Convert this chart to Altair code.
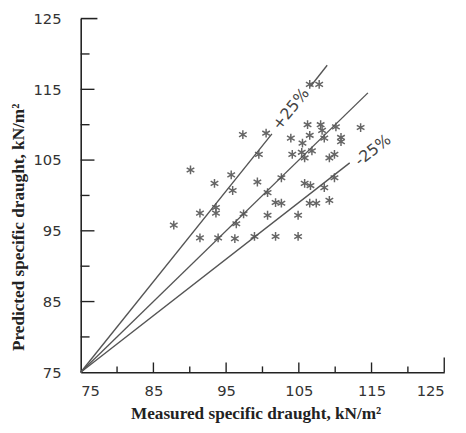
import altair as alt
import pandas as pd

# Scatter data (measured vs predicted specific draught, kN/m^2)
measured = [106.5, 107.8, 97.3, 100.5, 99.5, 103.9, 106.2, 108.0, 110.1, 113.5,
            105.5, 106.5, 108.2, 108.5, 110.8, 110.8, 104.1, 105.4, 106.8, 105.8,
            109.2, 109.9, 95.7, 93.4, 99.3, 95.9, 102.6, 105.8, 106.6, 108.5,
            109.9, 100.7, 101.8, 102.6, 106.5, 107.4, 109.2, 93.6, 91.4, 93.6,
            97.4, 100.7, 104.9, 96.4, 87.8, 90.1, 91.4, 93.9, 96.2, 98.9,
            101.8, 104.9]
predicted = [115.7, 115.7, 108.6, 108.8, 105.8, 108.1, 110.0, 110.0, 109.7, 109.6,
             107.4, 108.5, 109.2, 108.1, 108.2, 107.6, 105.8, 106.1, 106.3, 105.3,
             105.3, 105.8, 102.9, 101.7, 101.9, 100.7, 102.5, 101.7, 101.4, 101.1,
             102.5, 100.4, 99.0, 98.9, 98.9, 98.9, 99.3, 98.3, 97.5, 97.5,
             97.4, 97.2, 97.2, 96.0, 95.8, 103.6, 94.0, 94.0, 93.9, 94.2,
             94.2, 94.2]

# Reference lines (1:1, +25 %, -25 %)
line_id = ["eq", "eq", "plus_a", "plus_a", "plus_b", "plus_b", "minus", "minus"]
line_x = [75, 114.5, 75, 101.3, 106.6, 108.9, 75, 112.0]
line_y = [75, 114.5, 75, 108.7, 115.4, 118.4, 75, 104.6]

label_text = ["+25%", "-25%"]
label_x = [103.9, 115.2]
label_y = [112.2, 106.4]
label_angle = [308.8, 322]

tick_major = [85, 95, 105, 115]
tick_minor = [80, 90, 100, 110, 120]
tick_end = [125]
axis_labels = [75, 85, 95, 105, 115, 125]

pts = pd.DataFrame({"m": measured, "p": predicted})
lines = pd.DataFrame({"id": line_id, "x": line_x, "y": line_y})
labels = pd.DataFrame({"t": label_text, "x": label_x, "y": label_y, "a": label_angle})

DOM = [75, 125]
xs = alt.Scale(domain=DOM, nice=False)
ys = alt.Scale(domain=DOM, nice=False)

tick_font = "DejaVu Sans"
title_font = "Liberation Serif"

xaxis = alt.Axis(values=axis_labels, ticks=False, grid=False, domainColor="#222",
                 domainWidth=1.6, labelFont=tick_font, labelFontSize=15,
                 labelColor="#333", labelPadding=12,
                 title="Measured specific draught, kN/m²", titleFont=title_font,
                 titleFontSize=17.5, titleFontWeight="bold", titleColor="#222",
                 titlePadding=6, titleX=178)
yaxis = alt.Axis(values=axis_labels, ticks=False, grid=False, domainColor="#222",
                 domainWidth=1.6, labelFont=tick_font, labelFontSize=15,
                 labelColor="#333", labelPadding=20,
                 title="Predicted specific draught, kN/m²", titleFont=title_font,
                 titleFontSize=17.5, titleFontWeight="bold", titleColor="#222",
                 titleX=-54, titleY=212)

asterisk = "M0,-1L0,1M-0.87,-0.5L0.87,0.5M-0.87,0.5L0.87,-0.5"

points = alt.Chart(pts).mark_point(shape=asterisk, filled=False, size=80,
                                   strokeWidth=1.5, color="#666", opacity=1).encode(
    x=alt.X("m:Q", scale=xs, axis=xaxis),
    y=alt.Y("p:Q", scale=ys, axis=yaxis),
)

ref = alt.Chart(lines).mark_line(color="#555", strokeWidth=1.4).encode(
    x=alt.X("x:Q", scale=xs), y=alt.Y("y:Q", scale=ys), detail="id:N"
)

txt = alt.Chart(labels).mark_text(font=tick_font, fontSize=16, color="#444").encode(
    x=alt.X("x:Q", scale=xs), y=alt.Y("y:Q", scale=ys), text="t:N",
    angle=alt.Angle("a:Q", scale=None)
)

xt_major = alt.Chart(pd.DataFrame({"v": tick_major})).mark_rule(color="#222", strokeWidth=1.4).encode(
    x=alt.X("v:Q", scale=xs), y=alt.value(360), y2=alt.value(350))
xt_minor = alt.Chart(pd.DataFrame({"v": tick_minor})).mark_rule(color="#222", strokeWidth=1.4).encode(
    x=alt.X("v:Q", scale=xs), y=alt.value(360), y2=alt.value(354))
xt_end = alt.Chart(pd.DataFrame({"v": tick_end})).mark_rule(color="#222", strokeWidth=1.4).encode(
    x=alt.X("v:Q", scale=xs), y=alt.value(360), y2=alt.value(345))
yt_major = alt.Chart(pd.DataFrame({"v": tick_major})).mark_rule(color="#222", strokeWidth=1.4).encode(
    y=alt.Y("v:Q", scale=ys), x=alt.value(0), x2=alt.value(14))
yt_minor = alt.Chart(pd.DataFrame({"v": tick_minor})).mark_rule(color="#222", strokeWidth=1.4).encode(
    y=alt.Y("v:Q", scale=ys), x=alt.value(0), x2=alt.value(9))
yt_end = alt.Chart(pd.DataFrame({"v": tick_end})).mark_rule(color="#222", strokeWidth=1.6).encode(
    y=alt.Y("v:Q", scale=ys), x=alt.value(0), x2=alt.value(17))

chart = alt.layer(points, ref, txt, xt_major, xt_minor, xt_end, yt_major, yt_minor, yt_end).properties(
    width=370, height=360,
    autosize=alt.AutoSizeParams(type="none"),
    padding={"left": 74, "top": 7, "right": 14, "bottom": 58},
    background="white",
).configure_view(stroke=None)

chart.save("out.html", embed_options={"renderer": "svg", "actions": False})
